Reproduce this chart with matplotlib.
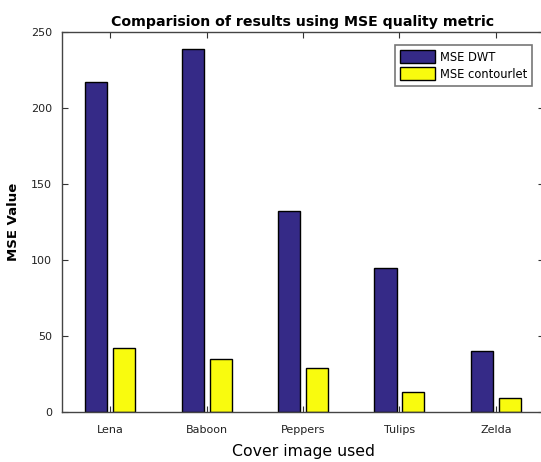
import numpy as np
import matplotlib
matplotlib.use("Agg")
import matplotlib.pyplot as plt

# data
images = ["Lena", "Baboon", "Peppers", "Tulips", "Zelda"]
mse_dwt = [217, 239, 132, 95, 40]
mse_contourlet = [42, 35, 29, 13, 9]

DWT_COLOR = "#352a87"
CONT_COLOR = "#f9fb0e"

fig = plt.figure(figsize=(5.41, 4.62), dpi=100)
ax = fig.add_axes([0.1146, 0.1082, 0.891, 0.8225])

x = np.arange(1, len(images) + 1)
w = 0.23
off = 0.145
ax.bar(x - off, mse_dwt, w, color=DWT_COLOR, edgecolor="black", linewidth=1.0, label="MSE DWT")
ax.bar(x + off, mse_contourlet, w, color=CONT_COLOR, edgecolor="black", linewidth=1.0, label="MSE contourlet")

ax.set_xlim(0.5, 5.5)
ax.set_ylim(0, 250)
ax.set_xticks(x)
ax.set_xticklabels(images)
ax.set_yticks([0, 50, 100, 150, 200, 250])
ax.tick_params(direction="in", length=4, width=0.8, color="#333333",
               labelsize=8, labelcolor="#222222", top=True, right=True)
ax.tick_params(axis="x", pad=9)
ax.tick_params(axis="y", pad=7)
for s in ax.spines.values():
    s.set_color("#444444")
    s.set_linewidth(1.0)

ax.set_title("Comparision of results using MSE quality metric", fontsize=10.2,
             fontweight="bold", pad=4)
ax.set_ylabel("MSE Value", fontsize=9.5, fontweight="bold", labelpad=8)
ax.set_xlabel("Cover image used", fontsize=11.3, labelpad=7)

leg = ax.legend(loc="upper right", bbox_to_anchor=(0.975, 0.966), borderaxespad=0,
                fontsize=8.3, frameon=True, fancybox=False, handlelength=3.0,
                handleheight=1.4, handletextpad=0.4, labelspacing=0.3,
                borderpad=0.45)
leg.get_frame().set_edgecolor("#555555")
leg.get_frame().set_linewidth(1.2)

fig.savefig("out.png", dpi=100)
